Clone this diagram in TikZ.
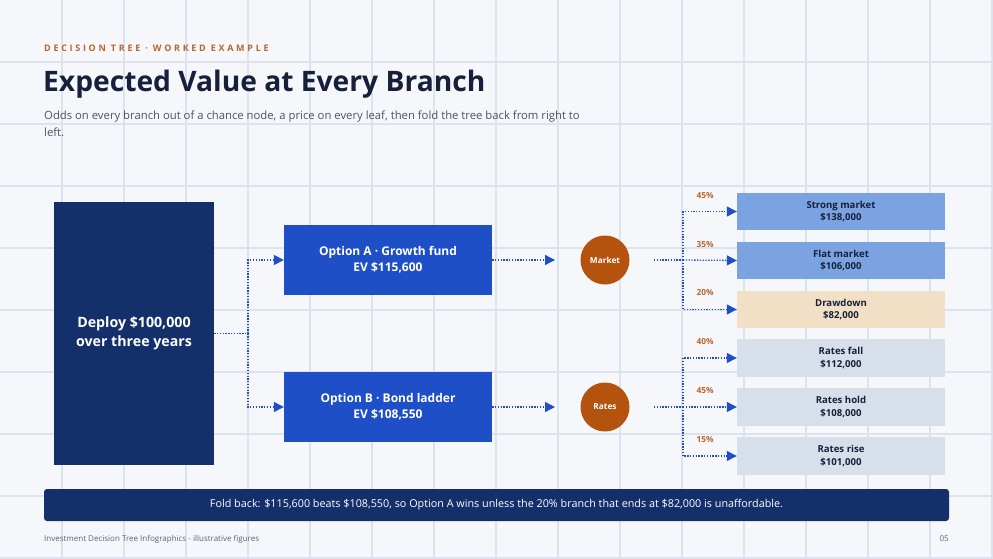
\documentclass[tikz,border=0pt]{standalone}
\usepackage{fontspec}
\setmainfont{Open Sans}
\usetikzlibrary{arrows.meta}
\definecolor{bgc}{HTML}{F5F7FB}
\definecolor{gridc}{HTML}{DCE3EF}
\definecolor{navy}{HTML}{14306B}
\definecolor{bluec}{HTML}{1F4FC6}
\definecolor{orangec}{HTML}{B4530E}
\definecolor{pctc}{HTML}{B8652A}
\definecolor{leafblue}{HTML}{7BA3E2}
\definecolor{beige}{HTML}{F2E0C6}
\definecolor{leafgray}{HTML}{D7DFEB}
\definecolor{darktext}{HTML}{16203A}
\definecolor{subtext}{HTML}{4A5363}
\definecolor{foottext}{HTML}{5A6478}
\tikzset{
  gridline/.style={draw=gridc, line width=1.3pt},
  rootbox/.style={rectangle, fill=navy, text=white, minimum width=160pt, minimum height=263pt, inner sep=0pt, align=center, font=\fontsize{14.2}{18.5}\selectfont\bfseries},
  optbox/.style={rectangle, fill=bluec, text=white, minimum width=208pt, minimum height=70pt, inner sep=0pt, align=center, font=\fontsize{12}{16}\selectfont\bfseries},
  chance/.style={circle, fill=orangec, text=white, minimum size=49pt, inner sep=0pt, font=\fontsize{8.3}{10}\selectfont\bfseries},
  leaf/.style={rectangle, minimum width=208pt, minimum height=37.5pt, inner sep=0pt, align=center, text=darktext, font=\fontsize{9.6}{12.5}\selectfont\bfseries},
  pct/.style={text=pctc, font=\fontsize{8.3}{10}\selectfont\bfseries, inner sep=0pt},
  conn/.style={draw=bluec, line width=1.3pt, dash pattern=on 1.3pt off 1.5pt},
  arr/.style={conn, -{Triangle[length=10pt,width=10pt]}},
}
\begin{document}
\begin{tikzpicture}[x=1pt,y=-1pt]
\useasboundingbox (0,0) rectangle (993,559);
\fill[bgc] (0,0) rectangle (993,559);
\foreach \gx in {62,124,...,992} \draw[gridline] (\gx,0) -- (\gx,559);
\foreach \gy in {62,124,...,558} \draw[gridline] (0,\gy) -- (993,\gy);

% header
\node[anchor=west, inner sep=0pt, text=pctc, font=\fontsize{9}{10}\selectfont\bfseries\addfontfeatures{LetterSpace=30}] (kicker) at (44,48) {DECISION TREE · WORKED EXAMPLE};
\node[anchor=base west, inner sep=0pt, text=darktext, font=\fontsize{28.2}{34}\selectfont\bfseries] (title) at (43,92) {Expected Value at Every Branch};
\node[anchor=north west, inner sep=0pt, text=subtext, align=left, font=\fontsize{11.3}{17}\selectfont] (sub) at (44,110.5) {Odds on every branch out of a chance node, a price on every leaf, then fold the tree back from right to\\left.};

% nodes
\node[rootbox] (root) at (134,333.5) {Deploy \$100,000\\over three years};
\node[optbox] (optA) at (388,260) {Option A · Growth fund\\EV \$115,600};
\node[optbox] (optB) at (388,407) {Option B · Bond ladder\\EV \$108,550};
\node[chance] (market) at (605,260) {Market};
\node[chance] (rates) at (605,407) {Rates};

\node[leaf, fill=leafblue] (l1) at (841,211.5) {Strong market\\\$138,000};
\node[leaf, fill=leafblue] (l2) at (841,260.5) {Flat market\\\$106,000};
\node[leaf, fill=beige] (l3) at (841,309.5) {Drawdown\\\$82,000};
\node[leaf, fill=leafgray] (l4) at (841,358) {Rates fall\\\$112,000};
\node[leaf, fill=leafgray] (l5) at (841,407) {Rates hold\\\$108,000};
\node[leaf, fill=leafgray] (l6) at (841,456) {Rates rise\\\$101,000};

\node[pct] (p1) at (705,196) {45\%};
\node[pct] (p2) at (705,244.5) {35\%};
\node[pct] (p3) at (705,293) {20\%};
\node[pct] (p4) at (705,342) {40\%};
\node[pct] (p5) at (705,391) {45\%};
\node[pct] (p6) at (705,440) {15\%};

% connectors
\coordinate (j0) at (248,333.5);
\draw[conn] (root.east) -- (j0);
\draw[arr] (j0) |- (optA.west);
\draw[arr] (j0) |- (optB.west);

\coordinate (mA) at (555,260);
\coordinate (mB) at (555,407);
\draw[arr] (optA.east) -- (mA);
\draw[arr] (optB.east) -- (mB);

\coordinate (ms) at (654,260);
\coordinate (mj) at (683,260);
\draw[conn] (ms) -- (mj);
\draw[arr] (mj) |- (l1.west);
\draw[arr] (mj) -- (l2.west);
\draw[arr] (mj) |- (l3.west);

\coordinate (rs) at (654,407);
\coordinate (rj) at (683,407);
\draw[conn] (rs) -- (rj);
\draw[arr] (rj) |- (l4.west);
\draw[arr] (rj) -- (l5.west);
\draw[arr] (rj) |- (l6.west);

% banner
\node[rectangle, rounded corners=3pt, fill=navy, text=white, minimum width=905pt, minimum height=32pt, inner sep=0pt, font=\fontsize{10.8}{12}\selectfont] (banner) at (496.5,505) {Fold back: \$115,600 beats \$108,550, so Option A wins unless the 20\% branch that ends at \$82,000 is unaffordable.};

% footer
\node[anchor=west, inner sep=0pt, text=foottext, font=\fontsize{8}{9}\selectfont] (foot) at (44,539) {Investment Decision Tree Infographics - illustrative figures};
\node[anchor=east, inner sep=0pt, text=foottext, font=\fontsize{8}{9}\selectfont] (page) at (949,539) {05};
\end{tikzpicture}
\end{document}
